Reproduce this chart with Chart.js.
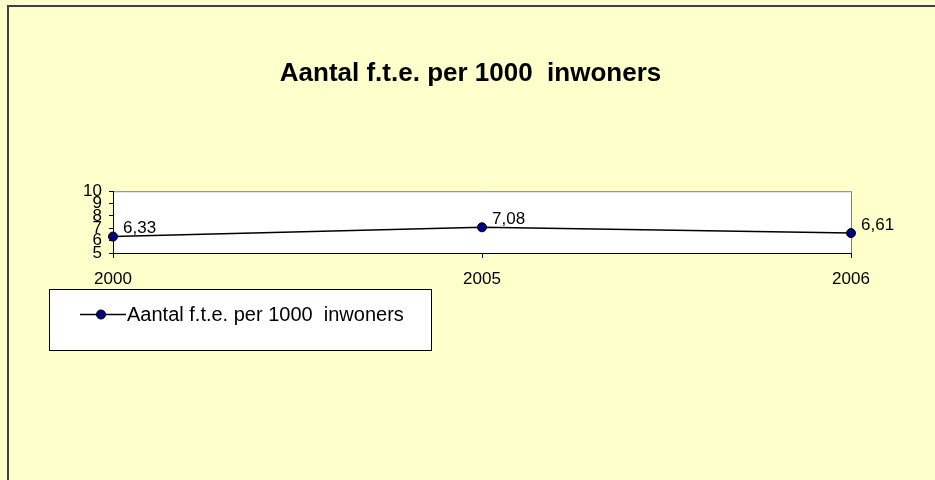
<!DOCTYPE html>
<html>
<head>
<meta charset="utf-8">
<script src="https://cdn.jsdelivr.net/npm/chart.js@4.4.0/dist/chart.umd.min.js"></script>
<style>
  html, body { margin: 0; padding: 0; background: #FFFFCC; }
  canvas { display: block; }
</style>
</head>
<body>
<canvas id="fte-chart" width="935" height="480"></canvas>
<script>
var titleText = 'Aantal f.t.e. per 1000  inwoners';
var seriesLabel = 'Aantal f.t.e. per 1000  inwoners';
var years = ['2000', '2005', '2006'];
var fteValues = [6.33, 7.08, 6.61];
var valueLabels = ['6,33', '7,08', '6,61'];

var FONT = '"Liberation Sans", Arial, sans-serif';

// background, outer frame and white plot area
var backdrop = {
  id: 'backdrop',
  beforeDraw: function(chart) {
    var c = chart.ctx, a = chart.chartArea;
    c.save();
    c.fillStyle = '#FFFFCC';
    c.fillRect(0, 0, chart.width, chart.height);
    c.fillStyle = '#404040';
    c.fillRect(7, 5, chart.width - 7, 2);
    c.fillRect(7, 5, 2, chart.height - 5);
    c.fillStyle = '#ffffff';
    c.fillRect(a.left, a.top, a.right - a.left, a.bottom - a.top);
    c.strokeStyle = '#808080';
    c.lineWidth = 1;
    c.beginPath();
    c.moveTo(a.left, a.top + 0.5);
    c.lineTo(a.right + 0.5, a.top + 0.5);
    c.lineTo(a.right + 0.5, a.bottom);
    c.stroke();
    c.restore();
  }
};

// value labels next to points + legend box
var extras = {
  id: 'extras',
  afterDatasetsDraw: function(chart) {
    var c = chart.ctx;
    var meta = chart.getDatasetMeta(0);
    c.save();
    c.fillStyle = '#000';
    c.font = '17px ' + FONT;
    c.textAlign = 'left';
    c.textBaseline = 'middle';
    meta.data.forEach(function(pt, i) {
      c.fillText(valueLabels[i], pt.x + 10, pt.y - 8);
    });
    c.restore();
  },
  afterDraw: function(chart) {
    var c = chart.ctx;
    var ds = chart.data.datasets[0];
    c.save();
    c.fillStyle = '#ffffff';
    c.fillRect(49, 289, 382, 61);
    c.strokeStyle = '#000';
    c.lineWidth = 1;
    c.strokeRect(49.5, 289.5, 382, 61);
    c.strokeStyle = ds.borderColor;
    c.lineWidth = 1.5;
    c.beginPath();
    c.moveTo(80, 314.5);
    c.lineTo(126, 314.5);
    c.stroke();
    c.beginPath();
    c.arc(101, 314.5, 4.5, 0, Math.PI * 2);
    c.fillStyle = ds.pointBackgroundColor;
    c.fill();
    c.lineWidth = 1;
    c.strokeStyle = ds.pointBorderColor;
    c.stroke();
    c.fillStyle = '#000';
    c.font = '20px ' + FONT;
    c.textBaseline = 'alphabetic';
    c.fillText(ds.label, 127, 321);
    c.restore();
  }
};

var ctx = document.getElementById('fte-chart').getContext('2d');
var myChart = new Chart(ctx, {
  type: 'line',
  data: {
    labels: years,
    datasets: [{
      label: seriesLabel,
      data: fteValues,
      borderColor: '#000000',
      borderWidth: 1.5,
      tension: 0,
      pointRadius: 4.5,
      pointBackgroundColor: '#000080',
      pointBorderColor: '#000000',
      pointBorderWidth: 1
    }]
  },
  options: {
    responsive: false,
    animation: false,
    devicePixelRatio: 1,
    layout: { padding: { left: 6, right: 0, top: 0, bottom: 187 } },
    plugins: {
      legend: { display: false },
      tooltip: { enabled: false },
      title: {
        display: true,
        text: titleText,
        color: '#000',
        font: { family: FONT, size: 26, weight: 'bold' },
        padding: { top: 58, bottom: 102 }
      }
    },
    scales: {
      x: {
        offset: false,
        grid: { drawOnChartArea: false, tickLength: 5, tickColor: '#000' },
        border: { color: '#000', width: 1 },
        ticks: { color: '#000', font: { family: FONT, size: 17 }, padding: 11, maxRotation: 0 },
        afterFit: function(scale) { scale.height = 40; }
      },
      y: {
        min: 5,
        max: 10,
        grid: { drawOnChartArea: false, tickLength: 4, tickColor: '#000' },
        border: { color: '#000', width: 1 },
        ticks: { stepSize: 1, autoSkip: false, color: '#000', font: { family: FONT, size: 17 }, padding: 7 },
        afterFit: function(scale) { scale.width = 107; }
      },
      // empty right axis, only reserves the space to the right of the plot
      yRight: {
        position: 'right',
        display: true,
        grid: { display: false },
        border: { display: false },
        ticks: { display: false },
        afterFit: function(scale) { scale.width = 84; }
      }
    }
  },
  plugins: [backdrop, extras]
});
</script>
</body>
</html>
